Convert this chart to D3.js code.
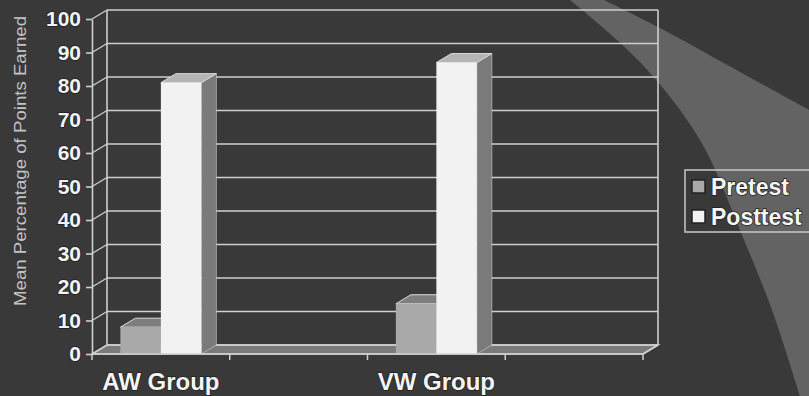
<!DOCTYPE html>
<html>
<head>
<meta charset="utf-8">
<script src="https://cdn.jsdelivr.net/npm/d3@7/dist/d3.min.js"></script>
<style>
  html, body { margin: 0; padding: 0; background: #393939; }
  svg { display: block; font-family: Arial, "Liberation Sans", sans-serif; }
</style>
</head>
<body>
<svg id="chart" width="809" height="396"></svg>
<script>
// Category slots along the floor (blank slots keep the spacing of the original worksheet rows)
const categories = ["AW Group", "", "VW Group", ""];
const seriesNames = ["Pretest", "Posttest"];
const pretest  = [8, null, 15, null];
const posttest = [81, null, 87, null];
const yTicks = [0, 10, 20, 30, 40, 50, 60, 70, 80, 90, 100];
const yTitle = "Mean Percentage of Points Earned";

const svg = d3.select("#chart");
const W = 809, H = 396;

// background swoosh
svg.append("rect").attr("width", W).attr("height", H).attr("fill", "#393939");
const outer = [[570, 0], [640, 62], [700, 140], [742, 235], [772, 310], [800, 396]];
const inner = [[809, 110], [740, 72], [660, 28], [604, 0]];
const lineGen = d3.line().curve(d3.curveCatmullRom);
const swoosh = lineGen(outer) + "L809,396" + lineGen(inner).replace("M", "L") + "Z";
svg.append("path").attr("d", swoosh).attr("fill", "#636363");

// 3-D projection: back wall is shifted right/up from the front plane
const dx = 15, dy = 9;
const x = d3.scaleBand().domain(d3.range(categories.length)).range([92, 643]).paddingInner(0).paddingOuter(0);
const xs = d3.scaleBand().domain(seriesNames).range([0, x.bandwidth()]).paddingInner(0).paddingOuter(0.7);
const y = d3.scaleLinear().domain([0, 100]).range([354, 19]);

const gridColor = "#cfcfcf";
const g = svg.append("g");

// floor
const x0 = x.range()[0], x1 = x.range()[1];
g.append("path")
  .attr("d", `M${x0},${y(0)}L${x1},${y(0)}L${x1 + dx},${y(0) - dy}L${x0 + dx},${y(0) - dy}Z`)
  .attr("fill", "#7a7a7a").attr("stroke", gridColor).attr("stroke-width", 1.5);

// back wall gridlines and side wall diagonals
yTicks.forEach(t => {
  g.append("line").attr("x1", x0 + dx).attr("x2", x1 + dx)
    .attr("y1", y(t) - dy).attr("y2", y(t) - dy)
    .attr("stroke", gridColor).attr("stroke-width", 1.6);
  g.append("line").attr("x1", x0).attr("x2", x0 + dx)
    .attr("y1", y(t)).attr("y2", y(t) - dy)
    .attr("stroke", gridColor).attr("stroke-width", 1.4);
});
// wall edges
[x0 + dx, x1 + dx].forEach(xx => {
  g.append("line").attr("x1", xx).attr("x2", xx)
    .attr("y1", y(0) - dy).attr("y2", y(100) - dy)
    .attr("stroke", gridColor).attr("stroke-width", 1.6);
});
g.append("line").attr("x1", x1).attr("x2", x1 + dx)
  .attr("y1", y(0)).attr("y2", y(0) - dy).attr("stroke", gridColor).attr("stroke-width", 1.5);

// bars
const styles = {
  Pretest:  { front: "#a9a9a9", top: "#7e7e7e", side: "#6c6c6c" },
  Posttest: { front: "#f2f2f2", top: "#b4b4b4", side: "#7a7a7a" }
};
const seriesVals = { Pretest: pretest, Posttest: posttest };
categories.forEach((c, i) => {
  seriesNames.forEach(s => {
    const v = seriesVals[s][i];
    if (v == null) return;
    const bx = x(i) + xs(s), bw = xs.bandwidth();
    const yt = y(v), yb = y(0);
    const st = styles[s];
    g.append("path")
      .attr("d", `M${bx + bw},${yt}L${bx + bw + dx},${yt - dy}L${bx + bw + dx},${yb - dy}L${bx + bw},${yb}Z`)
      .attr("fill", st.side).attr("stroke", "#cfcfcf").attr("stroke-width", 0.6);
    g.append("path")
      .attr("d", `M${bx},${yt}L${bx + bw},${yt}L${bx + bw + dx},${yt - dy}L${bx + dx},${yt - dy}Z`)
      .attr("fill", st.top).attr("stroke", "#dcdcdc").attr("stroke-width", 1);
    g.append("rect").attr("x", bx).attr("y", yt).attr("width", bw).attr("height", yb - yt)
      .attr("fill", st.front);
  });
});

// value axis on the front plane
const yAxis = d3.axisLeft(y).tickValues(yTicks).tickSize(6).tickSizeOuter(0).tickPadding(5);
const ya = svg.append("g").attr("transform", `translate(${x0},0)`).call(yAxis);
ya.selectAll("path, line").attr("stroke", gridColor).attr("stroke-width", 1.6);
ya.selectAll("text")
  .attr("fill", "#f4f4f4").attr("font-size", 21).attr("font-weight", "bold")
  .attr("font-family", "Arial, 'Liberation Sans', sans-serif")
  .attr("stroke", "#1e1e1e").attr("stroke-width", 1.5).attr("paint-order", "stroke");

// category axis
svg.append("line").attr("x1", x0).attr("x2", x1).attr("y1", y(0)).attr("y2", y(0))
  .attr("stroke", gridColor).attr("stroke-width", 1.6);
const bounds = categories.map((c, i) => x(i)).concat([x1]);
svg.selectAll(".ctick").data(bounds).join("line")
  .attr("x1", d => d).attr("x2", d => d).attr("y1", y(0)).attr("y2", y(0) + 6)
  .attr("stroke", gridColor).attr("stroke-width", 1.5);
svg.selectAll(".clabel").data(categories.filter(c => c !== "")).join("text")
  .attr("x", c => x(categories.indexOf(c)) + x.bandwidth() / 2)
  .attr("y", 390)
  .attr("text-anchor", "middle")
  .attr("fill", "#f4f4f4").attr("font-size", 24).attr("font-weight", "bold")
  .attr("stroke", "#1e1e1e").attr("stroke-width", 1.5).attr("paint-order", "stroke")
  .text(c => c);

// axis title
svg.append("text")
  .attr("transform", `translate(26,${161}) rotate(-90)`)
  .attr("text-anchor", "middle")
  .attr("fill", "#c4c4c4").attr("font-size", 16)
  .attr("textLength", 290).attr("lengthAdjust", "spacingAndGlyphs")
  .text(yTitle);

// legend
const lg = svg.append("g").attr("transform", "translate(685,170)");
lg.append("rect").attr("x", 0).attr("y", 0).attr("width", 140).attr("height", 62)
  .attr("fill", "none").attr("stroke", "#c8c8c8").attr("stroke-width", 1.5);
seriesNames.forEach((s, i) => {
  lg.append("rect").attr("x", 7).attr("y", 10 + i * 30).attr("width", 13).attr("height", 13)
    .attr("fill", styles[s].front).attr("stroke", "#222").attr("stroke-width", 1.5);
  lg.append("text").attr("x", 26).attr("y", 25 + i * 30)
    .attr("fill", "#f6f6f6").attr("font-size", 23).attr("font-weight", "bold")
    .attr("stroke", "#1e1e1e").attr("stroke-width", 1.5).attr("paint-order", "stroke")
    .text(s);
});
</script>
</body>
</html>
